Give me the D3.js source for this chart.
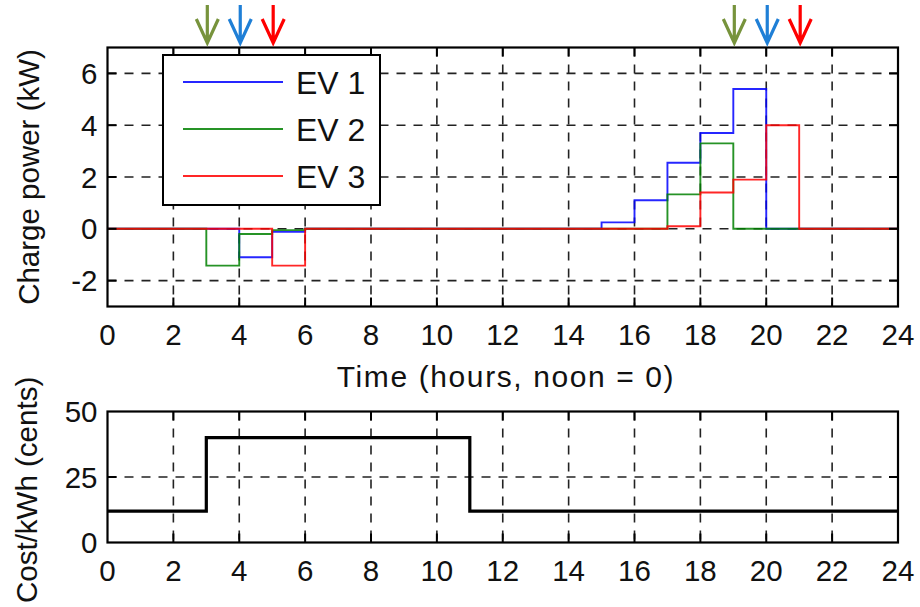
<!DOCTYPE html>
<html>
<head>
<meta charset="utf-8">
<script src="https://cdn.jsdelivr.net/npm/d3@7"></script>
<style>
  html, body { margin: 0; padding: 0; background: #fff; }
  svg { display: block; font-family: "Liberation Sans", Arial, Helvetica, sans-serif; }
</style>
</head>
<body>
<svg id="chart" width="920" height="607"></svg>
<script>
// ---------- data ----------
// hourly charge power, index i = interval [i, i+1) hours after noon
const hours = d3.range(0, 24);
const ev1 = [0,0,0,0,-1.1,-0.12,0,0,0,0,0,0,0,0,0,0.25,1.1,2.55,3.7,5.4,0,0,0,0];
const ev2 = [0,0,0,-1.42,-0.2,-0.05,0,0,0,0,0,0,0,0,0,0,0,1.33,3.3,0,0,0,0,0];
const ev3 = [0,0,0,0,0,-1.42,0,0,0,0,0,0,0,0,0,0,0,0.1,1.4,1.9,4.0,0,0,0];
const seriesNames = ["EV 1", "EV 2", "EV 3"];
const seriesColors = ["#0000ff", "#008000", "#ff0000"];
const cost = [12,12,12,40,40,40,40,40,40,40,40,12,12,12,12,12,12,12,12,12,12,12,12,12];
const xTicks = d3.range(0, 25, 2);
const yTicksTop = [-2, 0, 2, 4, 6];
const yTicksBottom = [0, 25, 50];
const arrowHours = [3, 4, 5, 19, 20, 21];
const arrowColors = ["#77933c", "#1f7fd6", "#ff0000", "#77933c", "#1f7fd6", "#ff0000"];

// ---------- layout ----------
const svg = d3.select("#chart");
const L = 107.5, R = 898;
const topP = {t: 47.5, b: 306.5};
const botP = {t: 411.5, b: 542.5};
const x = d3.scaleLinear().domain([0, 24]).range([L, R]);
const yTop = d3.scaleLinear().domain([-3, 7]).range([topP.b, topP.t]);
const yBot = d3.scaleLinear().domain([0, 50]).range([botP.b, botP.t]);
const fontSize = 29.5;
const tickLen = 9;

function stepLine(vals, y) {
  const pts = vals.map((v, i) => [i, v]);
  pts.push([24, vals[vals.length - 1]]);
  return d3.line().x(d => x(d[0])).y(d => y(d[1])).curve(d3.curveStepAfter)(pts);
}

function panel(y, yTicks, p, gridY) {
  const g = svg.append("g");
  g.selectAll("line.gx").data(xTicks.filter(t => t > 0 && t < 24)).join("line")
    .attr("x1", d => x(d)).attr("x2", d => x(d)).attr("y1", p.t).attr("y2", p.b)
    .attr("stroke", "#222").attr("stroke-width", 1.6).attr("stroke-dasharray", "9,8");
  g.selectAll("line.gy").data(gridY).join("line")
    .attr("x1", L).attr("x2", R).attr("y1", d => y(d)).attr("y2", d => y(d))
    .attr("stroke", "#222").attr("stroke-width", 1.6).attr("stroke-dasharray", "9,8");
  return g;
}

function frame(y, yTicks, p) {
  const g = svg.append("g");
  const xt = xTicks.filter(t => t > 0 && t < 24);
  g.selectAll("line.tb").data(xt).join("line")
    .attr("x1", d => x(d)).attr("x2", d => x(d)).attr("y1", p.b).attr("y2", p.b - tickLen)
    .attr("stroke", "#000").attr("stroke-width", 2);
  g.selectAll("line.tt").data(xt).join("line")
    .attr("x1", d => x(d)).attr("x2", d => x(d)).attr("y1", p.t).attr("y2", p.t + tickLen)
    .attr("stroke", "#000").attr("stroke-width", 2);
  const yt = yTicks.filter(t => y(t) > p.t + 1 && y(t) < p.b - 1);
  g.selectAll("line.tl").data(yt).join("line")
    .attr("x1", L).attr("x2", L + tickLen).attr("y1", d => y(d)).attr("y2", d => y(d))
    .attr("stroke", "#000").attr("stroke-width", 2);
  g.selectAll("line.tr").data(yt).join("line")
    .attr("x1", R).attr("x2", R - tickLen).attr("y1", d => y(d)).attr("y2", d => y(d))
    .attr("stroke", "#000").attr("stroke-width", 2);
  g.append("rect").attr("x", L).attr("y", p.t).attr("width", R - L).attr("height", p.b - p.t)
    .attr("fill", "none").attr("stroke", "#000").attr("stroke-width", 2.2);
  g.selectAll("text.xl").data(xTicks).join("text")
    .attr("x", d => x(d)).attr("y", p.b + 38.5)
    .attr("text-anchor", "middle").attr("font-size", fontSize).attr("fill", "#111")
    .text(d => d);
  g.selectAll("text.yl").data(yTicks).join("text")
    .attr("x", L - 10).attr("y", d => y(d) + 10.5)
    .attr("text-anchor", "end").attr("font-size", fontSize).attr("fill", "#111")
    .text(d => d);
  return g;
}

// ---------- top panel ----------
panel(yTop, yTicksTop, topP, yTicksTop);
const evs = [ev1, ev2, ev3];
svg.append("g").selectAll("path").data(evs).join("path")
  .attr("d", d => stepLine(d, yTop))
  .attr("fill", "none")
  .attr("stroke", (d, i) => seriesColors[i])
  .attr("stroke-width", 1.9)
  .attr("stroke-opacity", 0.85);
frame(yTop, yTicksTop, topP);

// legend
const lg = svg.append("g");
lg.append("rect").attr("x", 163).attr("y", 55).attr("width", 217).attr("height", 150)
  .attr("fill", "#fff").attr("stroke", "#000").attr("stroke-width", 2);
seriesNames.forEach((n, i) => {
  const ly = 82 + i * 47;
  lg.append("line").attr("x1", 183).attr("x2", 283).attr("y1", ly).attr("y2", ly)
    .attr("stroke", seriesColors[i]).attr("stroke-width", 1.9).attr("stroke-opacity", 0.85);
  lg.append("text").attr("x", 296).attr("y", ly + 12).attr("font-size", 32).attr("fill", "#111").text(n);
});

// arrows
const ag = svg.append("g");
arrowHours.forEach((h, i) => {
  const ax = x(h) + 1;
  ag.append("path")
    .attr("d", `M${ax},5 L${ax},43 M${ax - 11},19 L${ax},43 L${ax + 11},19`)
    .attr("fill", "none").attr("stroke", arrowColors[i]).attr("stroke-width", 3.2)
    .attr("stroke-linejoin", "miter");
});

// axis labels
svg.append("text")
  .attr("transform", `translate(39,${(topP.t + topP.b) / 2}) rotate(-90)`)
  .attr("text-anchor", "middle").attr("font-size", fontSize).attr("fill", "#111")
  .text("Charge power (kW)");
svg.append("text")
  .attr("x", 506).attr("y", 387)
  .attr("text-anchor", "middle").attr("font-size", 30).attr("fill", "#111")
  .attr("letter-spacing", 1.6)
  .text("Time (hours, noon = 0)");

// ---------- bottom panel ----------
panel(yBot, yTicksBottom, botP, [25]);
svg.append("path")
  .attr("d", stepLine(cost, yBot))
  .attr("fill", "none").attr("stroke", "#000").attr("stroke-width", 3.2);
frame(yBot, yTicksBottom, botP);

svg.append("text")
  .attr("transform", `translate(37,603) rotate(-90)`)
  .attr("text-anchor", "start").attr("font-size", fontSize).attr("fill", "#111")
  .text("Cost/kWh (cents)");
</script>
</body>
</html>
